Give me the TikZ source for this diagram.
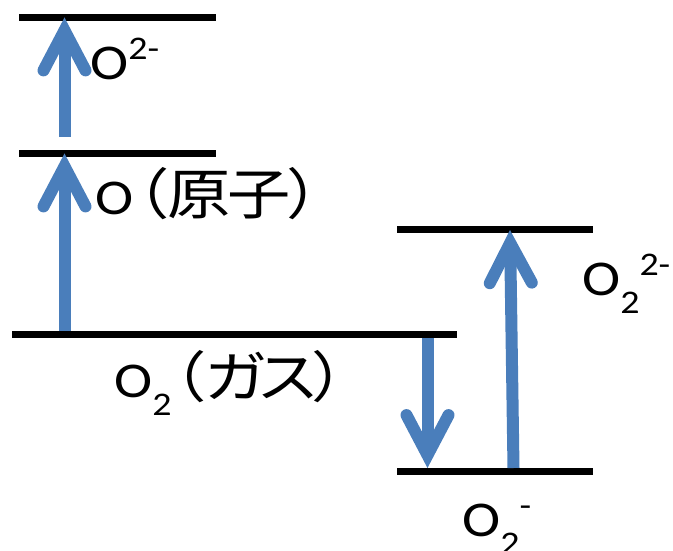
\documentclass[tikz,border=0pt]{standalone}
\usepackage{fontspec}
\setmainfont{Carlito}
\newfontfamily\cjk{Noto Sans CJK JP}[RawFeature=+palt]
\usetikzlibrary{arrows.meta}
\definecolor{arrowblue}{HTML}{4A7EBB}
\newcommand\mysub[1]{\raisebox{-18pt}{\fontsize{33}{33}\selectfont #1}}
\newcommand\mysup[1]{\raisebox{20pt}{\fontsize{33}{33}\selectfont #1}}
\newcommand\cj[1]{{\fontsize{55}{55}\cjk #1}}
\newcommand\wide[1]{\scalebox{1.15}[1]{#1}}
\begin{document}
\begin{tikzpicture}[x=1pt,y=-1pt,
  level/.style={line width=7pt},
  bluearrow/.style={draw=arrowblue,line width=12pt,
    -{Straight Barb[length=40pt,width=42pt,line cap=round,line join=miter]}},
  lbl/.style={anchor=base west,inner sep=0pt,font=\fontsize{50}{50}\selectfont}]
\useasboundingbox (0,0) rectangle (673,551);
% levels
\coordinate (t1) at (19,17.5);   \coordinate (t2) at (216,17.5);
\coordinate (m1) at (19,153.5);  \coordinate (m2) at (216,153.5);
\coordinate (g1) at (12,334.5);  \coordinate (g2) at (457,334.5);
\coordinate (p1) at (397,229);   \coordinate (p2) at (593,229);
\coordinate (s1) at (397,471);   \coordinate (s2) at (593,471);
\draw[level] (t1) -- (t2);
\draw[level] (m1) -- (m2);
\draw[level] (g1) -- (g2);
\draw[level] (p1) -- (p2);
\draw[level] (s1) -- (s2);
% arrow endpoints
\coordinate (a1s) at (64.5,137);  \coordinate (a1e) at (64.5,17.5);
\coordinate (a2s) at (64.5,331);  \coordinate (a2e) at (64.5,153.5);
\coordinate (a3s) at (427.5,338); \coordinate (a3e) at (427.5,468);
\coordinate (a4s) at (513.5,468); \coordinate (a4e) at (510,230);
\draw[bluearrow] (a1s) -- (a1e);
\draw[bluearrow] (a2s) -- (a2e);
\draw[bluearrow] (a3s) -- (a3e);
\draw[bluearrow] (a4s) -- (a4e);
% labels
\node[lbl] (lO2m) at (90,80) {\wide{O\mysup{2-}}};
\node[lbl] (lO) at (95,214) {\wide{O\hspace{2pt}\cj{（原\hspace{-2.5pt}子\hspace{-1.5pt}）}}};
\node[lbl] (lgas) at (114,397) {\wide{O\mysub{2}\hspace{1pt}\cj{（ガ\hspace{-4pt}ス\hspace{-3pt}）}}};
\node[lbl] (lper) at (582,295) {\wide{O\mysub{2}\mysup{2-}}};
\node[lbl] (lsup) at (462,536) {\wide{O\mysub{2}\mysup{-}}};
\end{tikzpicture}
\end{document}
